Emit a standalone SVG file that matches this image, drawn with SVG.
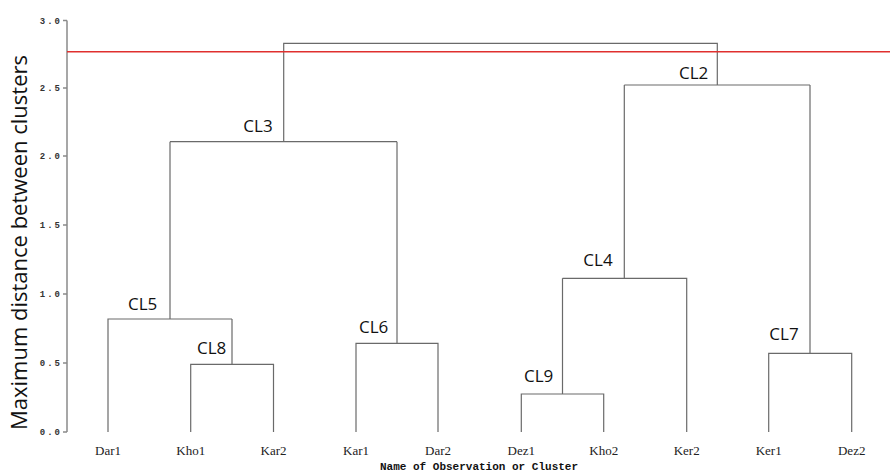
<svg xmlns="http://www.w3.org/2000/svg" width="890" height="473" viewBox="0 0 890 473">
<style>
.ln{fill:none;stroke:#6a6a6a;stroke-width:1.2}
.ax{fill:none;stroke:#8a8a8a;stroke-width:1.5}
.tk{font-family:"Liberation Mono",monospace;font-weight:bold;font-size:9px;fill:#333;letter-spacing:2px;text-anchor:end}
.leaf{font-family:"Liberation Serif",serif;font-size:13px;fill:#222;text-anchor:middle}
.cl{font-family:"Open Sans","Liberation Sans",sans-serif;font-size:17px;fill:#111}
.ttl{font-family:"Liberation Mono",monospace;font-weight:bold;font-size:11px;fill:#111}
</style>
<rect width="890" height="473" fill="#fff"/>
<g id="axis">
<path class="ax" d="M67,20.5V432M63,20.5H67M63,88H67M63,156H67M63,225H67M63,294H67M63,363H67M63,432H67"/>
<text class="tk" x="62" y="23.5">3.0</text>
<text class="tk" x="62" y="91">2.5</text>
<text class="tk" x="62" y="159">2.0</text>
<text class="tk" x="62" y="228">1.5</text>
<text class="tk" x="62" y="297">1.0</text>
<text class="tk" x="62" y="366">0.5</text>
<text class="tk" x="62" y="435">0.0</text>
<text class="cl" transform="translate(27,242.5) rotate(-90)" text-anchor="middle" style="font-size:22px" textLength="375" lengthAdjust="spacingAndGlyphs">Maximum distance between clusters</text>
</g>
<g id="connectors">
<path class="ln" d="M108,432V319H232M170,319V141.7"/>
<path class="ln" d="M190.7,432V364.3H273.5V432M232,364.3V319"/>
<path class="ln" d="M356,432V343.3H438V432M397,343.3V141.7"/>
<path class="ln" d="M170,141.7H397M283.7,141.7V43.3H717.3V85"/>
<path class="ln" d="M521.3,432V394H603.7V432M562.5,394V278.3"/>
<path class="ln" d="M562.5,278.3H686.7V432M624.3,278.3V85"/>
<path class="ln" d="M768.7,432V353.3H851.7V432M810,353.3V85"/>
<path class="ln" d="M624.3,85H810"/>
<path d="M67,51.7H890" fill="none" stroke="#e0302e" stroke-width="1.6"/>
</g>
<g id="leaf-Dar1"><text class="leaf" x="108" y="455">Dar1</text></g>
<g id="leaf-Kho1"><text class="leaf" x="190.7" y="455">Kho1</text></g>
<g id="leaf-Kar2"><text class="leaf" x="273.5" y="455">Kar2</text></g>
<g id="leaf-Kar1"><text class="leaf" x="356" y="455">Kar1</text></g>
<g id="leaf-Dar2"><text class="leaf" x="438" y="455">Dar2</text></g>
<g id="leaf-Dez1"><text class="leaf" x="521.3" y="455">Dez1</text></g>
<g id="leaf-Kho2"><text class="leaf" x="603.7" y="455">Kho2</text></g>
<g id="leaf-Ker2"><text class="leaf" x="686.7" y="455">Ker2</text></g>
<g id="leaf-Ker1"><text class="leaf" x="768.7" y="455">Ker1</text></g>
<g id="leaf-Dez2"><text class="leaf" x="851.7" y="455">Dez2</text></g>
<g id="CL2"><text class="cl" x="679" y="79">CL2</text></g>
<g id="CL3"><text class="cl" x="243.3" y="132.3">CL3</text></g>
<g id="CL4"><text class="cl" x="583.3" y="265.7">CL4</text></g>
<g id="CL5"><text class="cl" x="128" y="310">CL5</text></g>
<g id="CL6"><text class="cl" x="359" y="332.7">CL6</text></g>
<g id="CL7"><text class="cl" x="769.3" y="340">CL7</text></g>
<g id="CL8"><text class="cl" x="197" y="354">CL8</text></g>
<g id="CL9"><text class="cl" x="524" y="381.7">CL9</text></g>
<g id="xtitle"><text class="ttl" x="380" y="469.5">Name of Observation or Cluster</text></g>
</svg>
